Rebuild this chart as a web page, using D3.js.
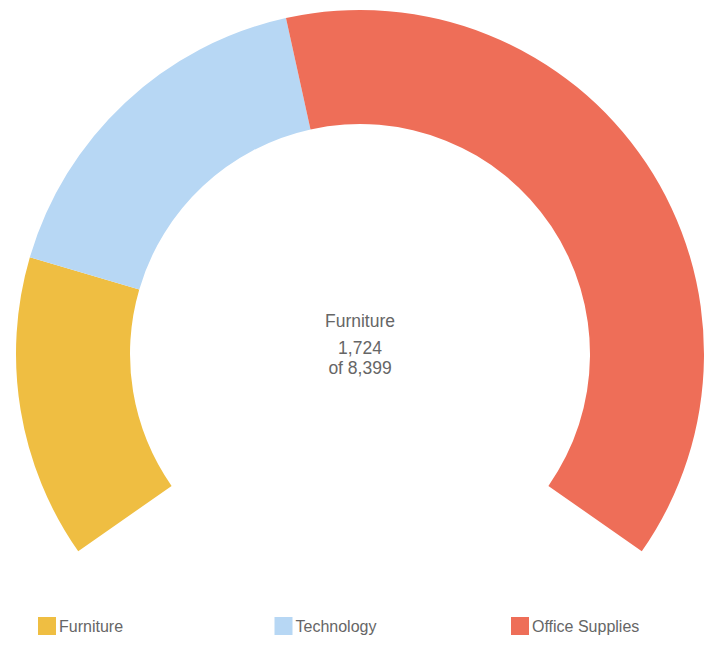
<!DOCTYPE html>
<html>
<head>
<meta charset="utf-8">
<script src="https://cdn.jsdelivr.net/npm/d3@7"></script>
<style>
    body { margin: 0; background: #fff; }
    text { font-family: "Liberation Sans", Arial, sans-serif; fill: #666; }
</style>
</head>
<body>
<script>
//chart values
var categories = ["Furniture", "Technology", "Office Supplies"];
var values = [1724, 2058, 4617];
var colors = ["#efbe42", "#b7d7f4", "#ee6e58"];
var total = 8399;
var selected = 0;

window.onload = drawChart;

function drawChart() {
    var width = 720,
        height = 663;

    var svg = d3.select("body")
        .append("svg")
        .attr("width", width)
        .attr("height", height);

    var cx = 360, cy = 354,
        outerR = 344, innerR = 230,
        span = 125 * Math.PI / 180;

    //gauge-style pie, open at the bottom
    var pie = d3.pie()
        .sort(null)
        .startAngle(-span)
        .endAngle(span)
        .value(function(d){ return d; });

    var arc = d3.arc()
        .innerRadius(innerR)
        .outerRadius(outerR);

    var g = svg.append("g")
        .attr("transform", "translate(" + cx + "," + cy + ")");

    g.selectAll(".slice")
        .data(pie(values))
        .enter()
        .append("path")
        .attr("class", "slice")
        .attr("d", arc)
        .attr("fill", function(d, i){ return colors[i]; });

    //center label
    var fmt = d3.format(",");
    g.append("text")
        .attr("text-anchor", "middle")
        .attr("y", -27)
        .style("font-size", "17.5px")
        .text(categories[selected]);
    g.append("text")
        .attr("text-anchor", "middle")
        .attr("y", 0)
        .style("font-size", "17.5px")
        .text(fmt(values[selected]));
    g.append("text")
        .attr("text-anchor", "middle")
        .attr("y", 20)
        .style("font-size", "17.5px")
        .text("of " + fmt(total));

    //legend
    var legendX = d3.scalePoint()
        .domain(categories)
        .range([38, 511]);

    var legend = svg.selectAll(".legend")
        .data(categories)
        .enter()
        .append("g")
        .attr("class", "legend")
        .attr("transform", function(d){ return "translate(" + legendX(d) + ",617)"; });

    legend.append("rect")
        .attr("width", 18)
        .attr("height", 18)
        .attr("fill", function(d, i){ return colors[i]; });

    legend.append("text")
        .attr("x", 21)
        .attr("y", 15)
        .style("font-size", "16px")
        .text(function(d){ return d; });
}
</script>
</body>
</html>
